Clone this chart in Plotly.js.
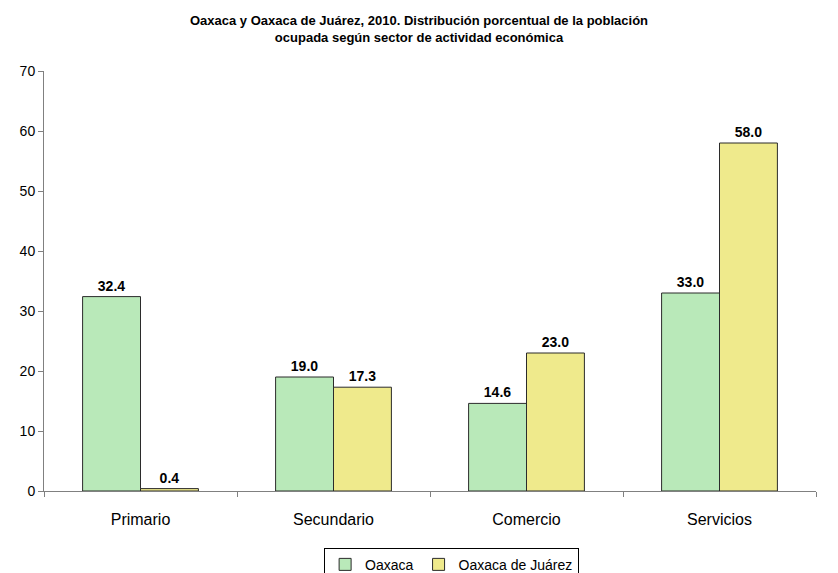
<!DOCTYPE html>
<html>
<head>
<meta charset="utf-8">
<script src="https://cdn.plot.ly/plotly-3.0.1.min.js"></script>
<style>html,body{margin:0;padding:0;background:#fff;}#chart{width:838px;height:573px;}</style>
</head>
<body>
<div id="chart"></div>
<script>
var categories = ["Primario", "Secundario", "Comercio", "Servicios"];
var oaxaca = [32.4, 19.0, 14.6, 33.0];
var oaxacaJuarez = [0.4, 17.3, 23.0, 58.0];
var seriesNames = ["Oaxaca", "Oaxaca de Juárez"];

var font = "Liberation Sans, Arial, sans-serif";
function bar(name, y, color) {
  return {
    type: "bar", name: name, x: categories, y: y,
    marker: {color: color, line: {color: "#2b2b2b", width: 1}},
    texttemplate: "<b>%{y:.1f}</b>", textposition: "outside",
    textfont: {family: font, size: 14, color: "#000"},
    cliponaxis: false, hoverinfo: "skip"
  };
}
var data = [bar(seriesNames[0], oaxaca, "#B9E9B9"), bar(seriesNames[1], oaxacaJuarez, "#EFEA8C")];
var layout = {
  width: 838, height: 573,
  margin: {l: 44, r: 22, t: 71, b: 82, autoexpand: false},
  paper_bgcolor: "#fff", plot_bgcolor: "#fff",
  font: {family: font, color: "#000"},
  title: {text: "<b>Oaxaca y Oaxaca de Juárez, 2010. Distribución porcentual de la población<br>ocupada según sector de actividad económica</b>",
          font: {family: font, size: 13, color: "#000"}, x: 0.5, xanchor: "center", yref: "container", y: 0.957, yanchor: "top"},
  barmode: "group", bargap: 0.4, bargroupgap: 0,
  xaxis: {showline: true, linecolor: "#808080", linewidth: 1, ticks: "outside", tickson: "boundaries", automargin: false,
          ticklen: 5, tickcolor: "#808080", tickfont: {family: font, size: 16}, ticklabelstandoff: 14, showgrid: false, zeroline: false},
  yaxis: {range: [0, 70], dtick: 10, showline: true, linecolor: "#808080", linewidth: 1, ticks: "outside", automargin: false,
          ticklen: 5, tickcolor: "#808080", tickfont: {family: font, size: 14}, showgrid: false, zeroline: false},
  showlegend: true,
  legend: {orientation: "h", x: 0.528, xanchor: "center", yref: "container", y: 0.044, yanchor: "top",
           bordercolor: "#000", borderwidth: 1, font: {family: font, size: 14}, itemwidth: 30, tracegroupgap: 0}
};
Plotly.newPlot("chart", data, layout, {displayModeBar: false, staticPlot: true});
</script>
</body>
</html>
